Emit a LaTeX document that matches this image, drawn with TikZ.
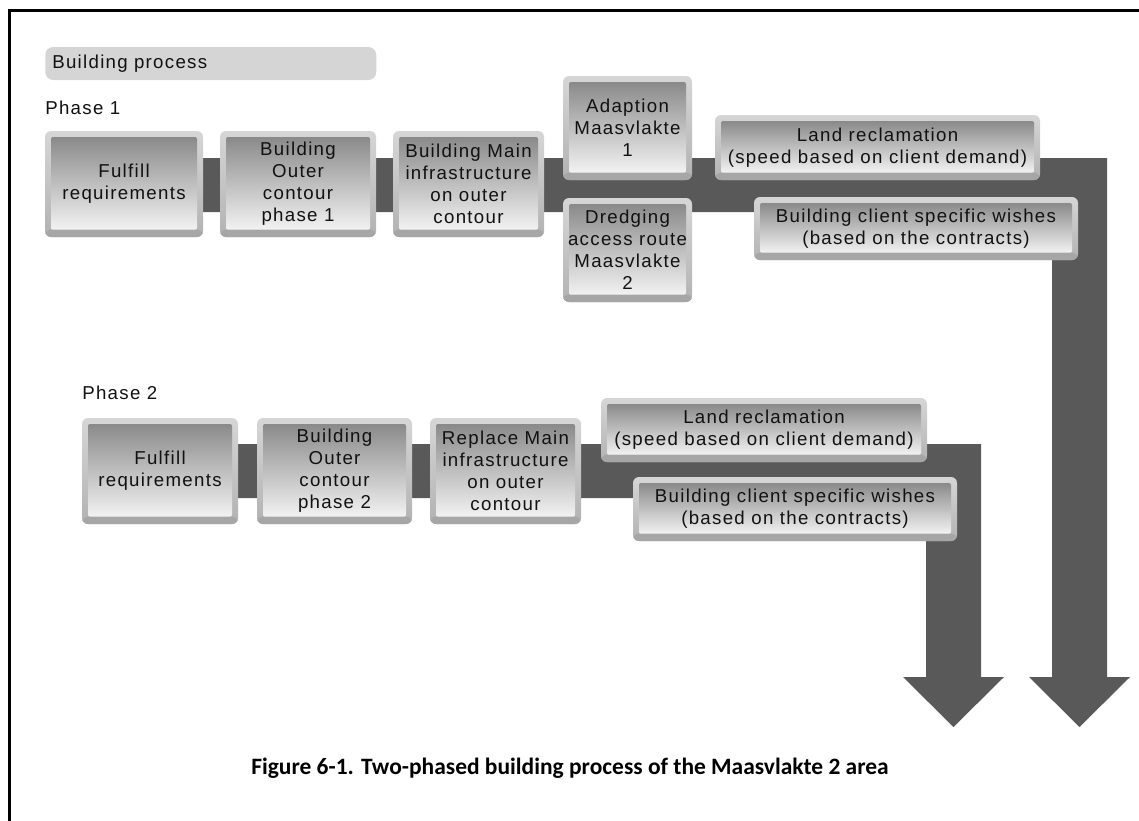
\documentclass[tikz,border=0pt]{standalone}
\usepackage{fontspec}
\setmainfont{Liberation Sans}
\newfontfamily\boxfont[LetterSpace=7]{Liberation Sans}
\newfontfamily\capfont{Carlito}
\definecolor{bandgray}{HTML}{595959}
\definecolor{bevtop}{HTML}{D6D6D6}
\definecolor{bevbot}{HTML}{B2B2B2}
\definecolor{bevstrip}{HTML}{A6A6A6}
\definecolor{facetop}{HTML}{8A8A8A}
\definecolor{facebot}{HTML}{F2F2F2}
\definecolor{barfill}{HTML}{D5D5D5}
\definecolor{ink}{HTML}{111111}
\tikzset{
  sz/.style 2 args={minimum width=#1*0.75pt, minimum height=#2*0.75pt},
  lbl/.style={font=\boxfont\fontsize{14pt}{16.5pt}\selectfont, text=ink},
  stepbox/.style={lbl, rounded corners=4.5pt, inner sep=0pt, align=center,
    top color=bevtop, bottom color=bevbot,
    path picture={
      \fill[bevstrip] ([yshift=-1pt]path picture bounding box.south west)
        rectangle ([yshift=5.5pt]path picture bounding box.south east);
      \shade[top color=facetop, bottom color=facebot, rounded corners=1.5pt]
        ([xshift=4.5pt,yshift=5.5pt]path picture bounding box.south west)
        rectangle ([xshift=-4.5pt,yshift=-4.5pt]path picture bounding box.north east);
    }},
  band/.style={fill=bandgray},
}
\begin{document}
\begin{tikzpicture}[x=0.75pt,y=-0.75pt]
\useasboundingbox (0,0) rectangle (1139,821);

% frame lines along the top and left edges
\draw[line width=2.25pt] (9.5,821) -- (9.5,10.5) -- (1139,10.5);

% heading bar
\node[lbl, fill=barfill, rounded corners=6pt, anchor=west, sz={331}{33},
      inner xsep=7*0.75pt, inner ysep=0pt, text width=317*0.75pt, align=left]
      (title) at (45,63.5) {Building process};

% phase labels
\node[lbl, anchor=west, inner sep=0pt] (ph1) at (45,108) {Phase 1};
\node[lbl, anchor=west, inner sep=0pt] (ph2) at (82,393) {Phase 2};

% broad flow bands with arrow heads (drawn beneath the boxes)
\coordinate (tip1) at (1079.5,727);
\coordinate (tip2) at (953.5,727);
\fill[band] (124,158) -- (1107,158) -- (1107,677) -- (1130,677) -- (tip1)
  -- (1029,677) -- (1052,677) -- (1052,212) -- (124,212) -- cycle;
\fill[band] (160,444) -- (981,444) -- (981,677) -- (1004,677) -- (tip2)
  -- (903,677) -- (926,677) -- (926,498) -- (160,498) -- cycle;

% phase 1 steps
\node[stepbox, sz={158}{106}] (f1) at (124,184) {Fulfill\\requirements};
\node[stepbox, sz={156}{106}] (o1) at (298,184) {Building\\Outer\\contour\\phase 1};
\node[stepbox, sz={151}{106}] (m1) at (468.5,184) {Building Main\\infrastructure\\on outer\\contour};
\node[stepbox, sz={129}{104}] (a1) at (627.5,128) {Adaption\\Maasvlakte\\1};
\node[stepbox, sz={129}{104}] (d1) at (627.5,250) {Dredging\\access route\\Maasvlakte\\2};
\node[stepbox, sz={325}{65}] (l1) at (877.5,147.5) {Land reclamation\\(speed based on client demand)};
\node[stepbox, sz={324}{63}] (c1) at (916,228.5) {Building client specific wishes\\(based on the contracts)};

% phase 2 steps
\node[stepbox, sz={156}{106}] (f2) at (160,471) {Fulfill\\requirements};
\node[stepbox, sz={155}{106}] (o2) at (334.5,471) {Building\\Outer\\contour\\phase 2};
\node[stepbox, sz={151}{106}] (m2) at (505.5,471) {Replace Main\\infrastructure\\on outer\\contour};
\node[stepbox, sz={326}{64}] (l2) at (764,430) {Land reclamation\\(speed based on client demand)};
\node[stepbox, sz={324}{64}] (c2) at (795,509) {Building client specific wishes\\(based on the contracts)};

% caption
\node[font=\capfont\bfseries\fontsize{17.6pt}{21pt}\selectfont, inner sep=0pt]
  (cap) at (570,768) {Figure 6-1. Two-phased building process of the Maasvlakte 2 area};
\end{tikzpicture}
\end{document}
